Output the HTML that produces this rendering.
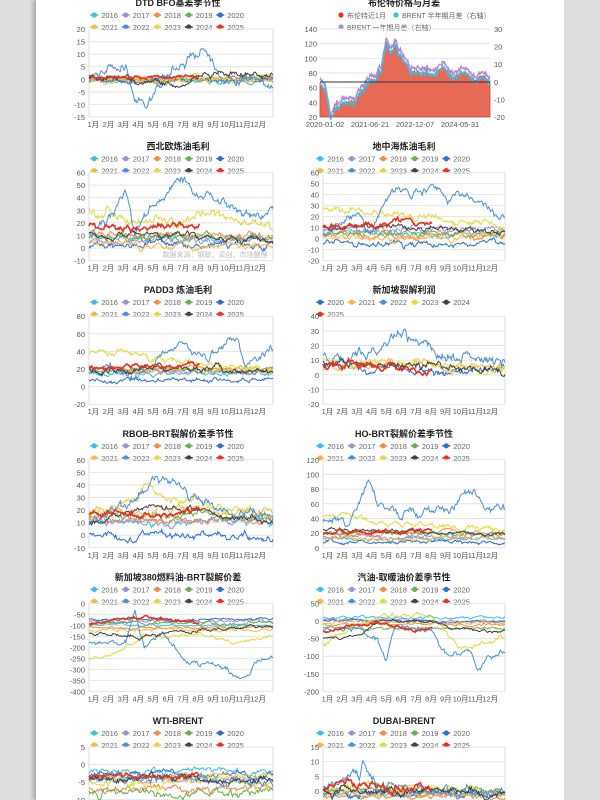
<!DOCTYPE html>
<html><head><meta charset="utf-8">
<style>
html,body{margin:0;padding:0;width:600px;height:800px;overflow:hidden;background:#dedede;}
#paper{position:absolute;left:36px;top:0;width:528px;height:800px;background:#fff;box-shadow:-3px 0 4px rgba(0,0,0,0.25);}
svg{position:absolute;left:0;top:0;overflow:hidden;}
text{font-family:"Liberation Sans","Noto Sans CJK SC",sans-serif;}
</style></head>
<body>
<div id="paper"></div>
<svg id="s" width="600" height="800" viewBox="0 0 600 800" xmlns="http://www.w3.org/2000/svg"></svg>
<script>
var S=document.getElementById('s');var out='';
var seed=7;function rnd(){seed=(seed*16807)%2147483647;return seed/2147483647;}
function gr(){return (rnd()+rnd()+rnd()-1.5);}
var C=['#3bbfe6','#a98bd4','#f7894a','#6ab04c','#2f6fd1','#f5b942','#4a90d9','#e3d93b','#404040','#e8321f'];
var Y=['2016','2017','2018','2019','2020','2021','2022','2023','2024','2025'];
function interp(pts,f){for(var i=0;i<pts.length-1;i++){if(f<=pts[i+1][0]){var a=pts[i],b=pts[i+1];return a[1]+(b[1]-a[1])*(f-a[0])/(b[0]-a[0]);}}return pts[pts.length-1][1];}
function legend(cx,y,idx){var sp=31.5;var x0=cx-2.5*sp;for(var k=0;k<idx.length;k++){var r=Math.floor(k/5),c=k%5;var x=x0+c*sp,yy=y+r*12;var i=idx[k];
out+='<line x1="'+(x-13)+'" y1="'+yy+'" x2="'+(x-5)+'" y2="'+yy+'" stroke="'+C[i]+'" stroke-width="1.5"/><circle cx="'+(x-9)+'" cy="'+yy+'" r="2.6" fill="'+C[i]+'"/><text x="'+(x-2)+'" y="'+(yy+3)+'" font-size="7.5" fill="#666">'+Y[i]+'</text>';}}
function panel(col,row,title,ymax,ymin,step,specs,idx){
 var top=row*143.6;var x0=col?323:89,x1=col?505:273;var cx=col?404:178;
 var pt=top+29,pb=top+117;
 out+='<text x="'+cx+'" y="'+(top+6)+'" font-size="9" font-weight="bold" text-anchor="middle" fill="#222">'+title+'</text>';
 legend(cx+4,top+15,idx);
 var n=Math.round((ymax-ymin)/step);
 for(var i=0;i<=n;i++){var v=ymax-i*step;var y=pt+(pb-pt)*i/n;if(y>802)continue;
  out+='<line x1="'+x0+'" y1="'+y+'" x2="'+x1+'" y2="'+y+'" stroke="#e4e4e4" stroke-width="1"/>';
  out+='<text x="'+(x0-4)+'" y="'+(y+3)+'" font-size="7.5" text-anchor="end" fill="#555">'+v+'</text>';}
 var pbc=Math.min(pb,800);
 out+='<line x1="'+x0+'" y1="'+pt+'" x2="'+x0+'" y2="'+pbc+'" stroke="#ddd"/><line x1="'+x1+'" y1="'+pt+'" x2="'+x1+'" y2="'+pbc+'" stroke="#ddd"/>';
 if(top+127<800){for(var m=0;m<12;m++){var x=x0+(x1-x0)*(m+0.3)/12.3;out+='<text x="'+x+'" y="'+(top+127)+'" font-size="7.5" text-anchor="middle" fill="#555">'+(m+1)+'月</text>';}}
 function sy(v){v=Math.max(ymin,Math.min(ymax,v));return Math.min(800,pt+(ymax-v)/(ymax-ymin)*(pb-pt));}
 var order=[0,1,2,3,4,5,7,6,8,9];
 for(var q=0;q<order.length;q++){var k=order[q];var sp=specs[k];if(!sp)continue;
  var N=200,end=(k==9)?0.6:1;var d='';var noise=0;
  for(var j=0;j<=N*end;j++){var f=j/N;noise=noise*0.85+gr()*sp[1];var base=(typeof sp[0]=='number')?sp[0]:interp(sp[0],f);
   var v=base+noise;d+=(j?'L':'M')+(x0+(x1-x0)*f).toFixed(1)+','+sy(v).toFixed(1);}
  out+='<path d="'+d+'" fill="none" stroke="'+C[k]+'" stroke-width="'+(k==9?1.6:1)+'"/>';}
}
var all=[0,1,2,3,4,5,6,7,8,9];
panel(0,0,'DTD BFO基差季节性',20,-15,5,[[-1,0.6],[0,0.6],[0,0.6],[0,0.6],[0,0.8],[-0.5,0.6],[[[0,0],[0.1,3],[0.2,5],[0.25,-8],[0.3,-10],[0.38,-5],[0.42,0],[0.5,6],[0.58,9],[0.62,13],[0.68,5],[0.72,0],[1,-1]],1.6],[0.5,0.8],[[[0,1],[0.4,-1],[0.5,-3],[0.6,1],[1,1]],1],[1,0.5]],all);
(function(){var top=0,x0=320,x1=490,pt=29,pb=117;
 out+='<text x="404" y="6" font-size="9" font-weight="bold" text-anchor="middle" fill="#222">布伦特价格与月差</text>';
 out+='<circle cx="341" cy="15" r="2.6" fill="#e8321f"/><text x="347" y="18" font-size="7" fill="#666">布伦特近1月</text>';
 out+='<circle cx="396" cy="15" r="2.6" fill="#3bbfe6"/><text x="402" y="18" font-size="7" fill="#666">BRENT 半年期月差（右轴）</text>';
 out+='<circle cx="341" cy="27" r="2.6" fill="#a98bd4"/><text x="347" y="30" font-size="7" fill="#666">BRENT 一年期月差（右轴）</text>';
 var L=[140,120,100,80,60,40,20],R=[30,20,10,0,-10,-20];
 for(var i=0;i<7;i++){var y=pt+(pb-pt)*i/6;out+='<line x1="'+x0+'" y1="'+y+'" x2="'+x1+'" y2="'+y+'" stroke="#e6e6e6"/><text x="'+(x0-3)+'" y="'+(y+3)+'" font-size="7.5" text-anchor="end" fill="#555">'+L[i]+'</text>';}
 for(var i=0;i<6;i++){var y=pt+(pb-pt)*i/5;out+='<text x="'+(x1+4)+'" y="'+(y+3)+'" font-size="7.5" fill="#555">'+R[i]+'</text>';}
 var P=[[0,68],[0.03,55],[0.06,22],[0.1,35],[0.15,42],[0.2,43],[0.25,60],[0.3,72],[0.36,82],[0.39,122],[0.42,105],[0.44,118],[0.48,100],[0.53,85],[0.6,82],[0.68,78],[0.72,90],[0.78,75],[0.85,82],[0.9,72],[0.95,72],[1,68]];
 var d='M'+x0+','+pb,dl='',dc='',n=0;
 for(var j=0;j<=300;j++){var f=j/300;n=n*0.8+gr()*3;var v=interp(P,f)+n;var x=x0+(x1-x0)*f;var y=pt+(140-v)/120*(pb-pt);d+='L'+x.toFixed(1)+','+y.toFixed(1);
  var yl=y-4+gr()*2;dl+=(j?'L':'M')+x.toFixed(1)+','+yl.toFixed(1);dc+=(j?'L':'M')+x.toFixed(1)+','+(yl+5).toFixed(1);}
 d+='L'+x1+','+pb+'Z';
 out+='<path d="'+d+'" fill="#e66a55" stroke="#d9412c" stroke-width="0.8"/>';
 out+='<path d="'+dl+'" fill="none" stroke="#a98bd4" stroke-width="1.3"/><path d="'+dc+'" fill="none" stroke="#3bbfe6" stroke-width="1.2"/>';
 out+='<line x1="'+x0+'" y1="82" x2="'+x1+'" y2="82" stroke="#333" stroke-width="1"/>';
 var D=['2020-01-02','2021-06-21','2022-12-07','2024-05-31'];for(var i=0;i<4;i++){out+='<text x="'+(x0+5+i*45)+'" y="127" font-size="7.5" text-anchor="middle" fill="#555">'+D[i]+'</text>';}
})();
panel(0,1,'西北欧炼油毛利',60,-10,10,[[8,2],[6,2],[10,2],[8,2],[3,2],[3,2],[[[0,10],[0.12,25],[0.2,45],[0.25,8],[0.3,25],[0.4,40],[0.5,55],[0.6,45],[0.7,40],[0.8,35],[0.9,25],[1,30]],3],[[[0,30],[0.3,25],[0.5,20],[0.7,25],[1,15]],3],[[[0,12],[0.5,10],[1,5]],2],[[[0,18],[0.3,15],[0.6,20]],2]],all);
out+='<text x="215" y="257" font-size="7" text-anchor="middle" fill="#bbb">数据来源：钢联，卓创，市场整理</text>';
panel(1,1,'地中海炼油毛利',60,-20,10,[[5,2],[8,2],[3,2],[4,2],[-5,2],[2,2],[[[0,5],[0.2,25],[0.25,5],[0.3,20],[0.4,45],[0.5,40],[0.6,50],[0.7,35],[0.8,40],[0.9,25],[1,22]],3],[[[0,28],[0.4,20],[0.7,20],[1,12]],3],[[[0,10],[0.5,10],[1,5]],2],[[[0,12],[0.6,15]],2]],all);
panel(0,2,'PADD3 炼油毛利',80,-20,20,[[15,2],[18,2],[20,2],[18,2],[8,2],[20,2],[[[0,25],[0.2,20],[0.25,5],[0.4,40],[0.5,50],[0.6,35],[0.8,55],[0.85,20],[0.9,35],[1,40]],4],[[[0,40],[0.3,35],[0.6,25],[1,15]],3],[[[0,20],[0.5,22],[1,15]],3],[[[0,20],[0.6,25]],2]],all);
panel(1,2,'新加坡裂解利润',40,-20,10,[null,null,null,null,[[[0,8],[0.5,2],[1,5]],2],[[[0,5],[0.3,8],[1,5]],2],[[[0,12],[0.3,15],[0.4,25],[0.45,30],[0.5,20],[0.6,15],[1,8]],3],[[[0,10],[0.5,8],[1,4]],2],[[[0,8],[0.5,6],[1,2]],2],[[[0,8],[0.6,5]],2]],[4,5,6,7,8,9]);
panel(0,3,'RBOB-BRT裂解价差季节性',60,-10,10,[[10,2],[12,2],[12,2],[15,2],[0,2],[20,2],[[[0,10],[0.2,20],[0.3,40],[0.4,50],[0.5,40],[0.6,30],[0.7,20],[1,15]],3],[[[0,15],[0.3,35],[0.5,30],[0.7,25],[1,10]],3],[[[0,10],[0.3,22],[0.6,20],[1,10]],2],[[[0,15],[0.6,20]],2]],all);
panel(1,3,'HO-BRT裂解价差季节性',120,0,20,[[12,2],[15,2],[20,2],[20,2],[8,2],[12,2],[[[0,35],[0.15,30],[0.2,60],[0.25,100],[0.3,60],[0.5,50],[0.7,55],[0.8,80],[0.9,55],[1,50]],5],[[[0,45],[0.3,35],[0.6,30],[1,25]],3],[[[0,25],[0.5,22],[1,20]],2],[[[0,20],[0.6,25]],2]],all);
panel(0,4,'新加坡380燃料油-BRT裂解价差',0,-400,50,[[-100,4],[-80,4],[-110,4],[-90,6],[-70,5],[-120,5],[[[0,-180],[0.2,-180],[0.25,-40],[0.3,-200],[0.4,-120],[0.45,-200],[0.55,-280],[0.65,-260],[0.75,-300],[0.82,-350],[0.9,-280],[1,-250]],10],[[[0,-250],[0.15,-220],[0.3,-150],[0.6,-140],[0.8,-180],[1,-150]],6],[[[0,-140],[0.3,-150],[0.6,-120],[1,-110]],6],[[[0,-90],[0.3,-60],[0.6,-90]],5]],all);
panel(1,4,'汽油-取暖油价差季节性',50,-200,50,[[10,3],[0,3],[-10,3],[-20,3],[0,3],[-5,3],[[[0,-20],[0.15,-30],[0.2,-20],[0.3,-40],[0.35,-120],[0.4,-10],[0.5,-20],[0.6,-30],[0.65,-80],[0.7,-110],[0.8,-80],[0.85,-130],[0.9,-100],[1,-90]],7],[[[0,-70],[0.15,-20],[0.3,20],[0.6,10],[0.7,-50],[0.8,-80],[1,-40]],5],[[[0,-50],[0.2,-40],[0.3,0],[0.6,0],[0.7,-20],[1,-30]],3],[[[0,-30],[0.2,-10],[0.3,-5],[0.5,-30],[0.6,-20]],3]],all);
panel(0,5,'WTI-BRENT',5,-20,5,[[-2,0.6],[-4,0.6],[-7,0.8],[-8,0.8],[-3,0.6],[-3,0.5],[-4,1],[-5,0.8],[-4,0.8],[-3,0.5]],all);
panel(1,5,'DUBAI-BRENT',15,-15,5,[[-1,0.6],[-0.5,0.6],[-2,0.6],[0,0.6],[-1,0.8],[-1,0.6],[[[0,1],[0.2,5],[0.22,10],[0.3,2],[1,0]],1.2],[[[0,0],[0.2,2],[1,0]],0.8],[0,1],[[[0,0.5],[0.1,3],[0.3,2],[0.6,1]],1]],all);
S.innerHTML=out;
</script>
</body></html>
